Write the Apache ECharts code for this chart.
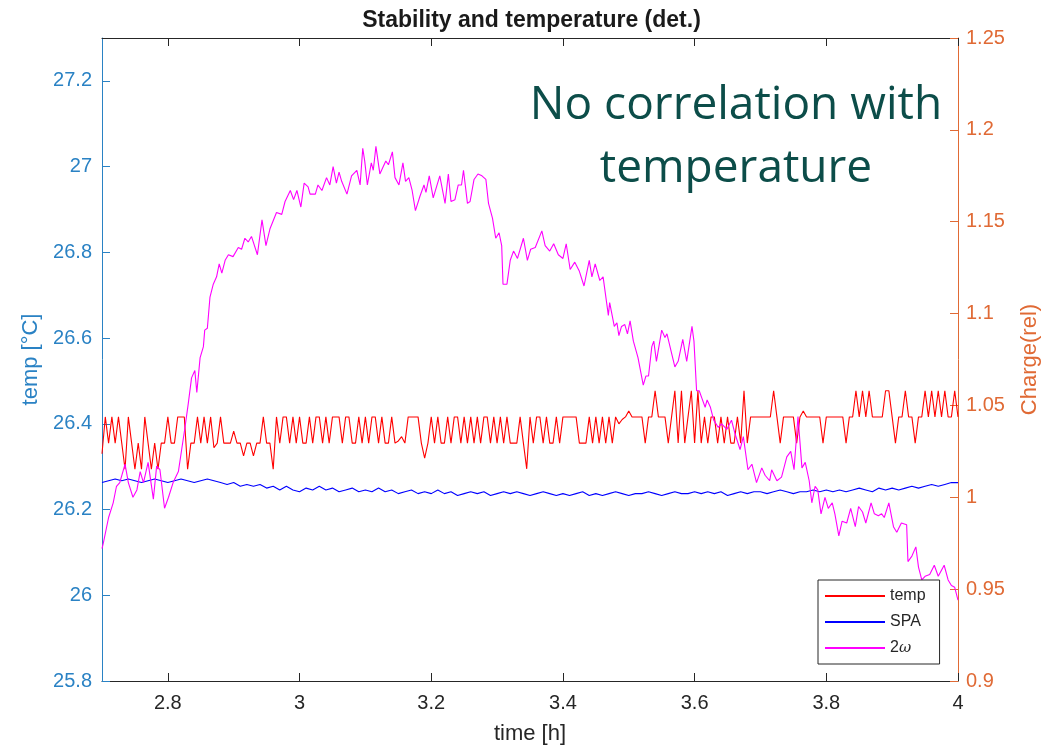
<!DOCTYPE html>
<html>
<head>
<meta charset="utf-8">
<script src="https://cdn.jsdelivr.net/npm/echarts@6/dist/echarts.min.js"></script>
<style>
html,body{margin:0;padding:0;background:#fff;}
#c{width:1063px;height:749px;}
</style>
</head>
<body>
<div id="c"></div>
<script>
// ---- data ----
const xTicks = [2.8, 3, 3.2, 3.4, 3.6, 3.8, 4];
const tempTicks = [25.8, 26, 26.2, 26.4, 26.6, 26.8, 27, 27.2];
const chargeTicks = [0.9, 0.95, 1, 1.05, 1.1, 1.15, 1.2, 1.25];

const tempTimes = [
2.700,2.705,2.710,2.715,2.720,2.725,2.730,2.735,2.740,2.745,
2.750,2.755,2.760,2.765,2.770,2.775,2.780,2.785,2.790,2.795,
2.800,2.805,2.810,2.815,2.820,2.825,2.830,2.835,2.840,2.845,
2.850,2.855,2.860,2.865,2.870,2.875,2.880,2.885,2.890,2.895,
2.900,2.905,2.910,2.915,2.920,2.925,2.930,2.935,2.940,2.945,
2.950,2.955,2.960,2.965,2.970,2.975,2.980,2.985,2.990,2.995,
3.000,3.005,3.010,3.015,3.020,3.025,3.030,3.035,3.040,3.045,
3.050,3.055,3.060,3.065,3.070,3.075,3.080,3.085,3.090,3.095,
3.100,3.105,3.110,3.115,3.120,3.125,3.130,3.135,3.140,3.145,
3.150,3.155,3.160,3.165,3.170,3.175,3.180,3.185,3.190,3.195,
3.200,3.205,3.210,3.215,3.220,3.225,3.230,3.235,3.240,3.245,
3.250,3.255,3.260,3.265,3.270,3.275,3.280,3.285,3.290,3.295,
3.300,3.305,3.310,3.315,3.320,3.325,3.330,3.335,3.340,3.345,
3.350,3.355,3.360,3.365,3.370,3.375,3.380,3.385,3.390,3.395,
3.400,3.405,3.410,3.415,3.420,3.425,3.430,3.435,3.440,3.445,
3.450,3.455,3.460,3.465,3.470,3.475,3.480,3.485,3.490,3.495,
3.500,3.505,3.510,3.515,3.520,3.525,3.530,3.535,3.540,3.545,
3.550,3.555,3.560,3.565,3.570,3.575,3.580,3.585,3.590,3.595,
3.600,3.605,3.610,3.615,3.620,3.625,3.630,3.635,3.640,3.645,
3.650,3.655,3.660,3.665,3.670,3.675,3.680,3.685,3.690,3.695,
3.700,3.705,3.710,3.715,3.720,3.725,3.730,3.735,3.740,3.745,
3.750,3.755,3.760,3.765,3.770,3.775,3.780,3.785,3.790,3.795,
3.800,3.805,3.810,3.815,3.820,3.825,3.830,3.835,3.840,3.845,
3.850,3.855,3.860,3.865,3.870,3.875,3.880,3.885,3.890,3.895,
3.900,3.905,3.910,3.915,3.920,3.925,3.930,3.935,3.940,3.945,
3.950,3.955,3.960,3.965,3.970,3.975,3.980,3.985,3.990,3.995,
4.000
];
const tempValues = [
26.33,26.416,26.355,26.416,26.355,26.416,26.355,26.294,26.416,26.355,
26.294,26.355,26.294,26.416,26.355,26.294,26.355,26.294,26.355,26.355,
26.416,26.355,26.355,26.416,26.416,26.416,26.294,26.355,26.355,26.416,
26.355,26.416,26.355,26.416,26.344,26.355,26.416,26.355,26.355,26.355,
26.383,26.355,26.355,26.325,26.355,26.355,26.325,26.355,26.355,26.416,
26.355,26.355,26.294,26.416,26.355,26.416,26.416,26.355,26.416,26.355,
26.416,26.355,26.355,26.416,26.355,26.416,26.416,26.355,26.416,26.355,
26.416,26.416,26.416,26.355,26.416,26.416,26.355,26.355,26.416,26.355,
26.416,26.355,26.416,26.416,26.355,26.416,26.355,26.355,26.416,26.355,
26.36,26.37,26.355,26.416,26.416,26.416,26.416,26.355,26.32,26.355,
26.416,26.355,26.416,26.355,26.355,26.416,26.355,26.416,26.416,26.355,
26.416,26.355,26.416,26.355,26.416,26.355,26.416,26.416,26.355,26.416,
26.355,26.416,26.355,26.416,26.355,26.355,26.355,26.416,26.355,26.295,
26.416,26.355,26.416,26.416,26.355,26.416,26.355,26.355,26.416,26.355,
26.416,26.416,26.416,26.416,26.416,26.355,26.355,26.355,26.416,26.355,
26.416,26.355,26.416,26.355,26.416,26.355,26.416,26.40,26.41,26.416,
26.43,26.416,26.416,26.416,26.416,26.355,26.416,26.416,26.477,26.416,
26.416,26.416,26.355,26.416,26.477,26.355,26.477,26.355,26.416,26.477,
26.355,26.477,26.355,26.416,26.355,26.416,26.416,26.355,26.416,26.355,
26.416,26.355,26.355,26.416,26.355,26.477,26.355,26.416,26.416,26.416,
26.416,26.416,26.416,26.416,26.477,26.416,26.355,26.416,26.416,26.416,
26.416,26.355,26.416,26.43,26.416,26.416,26.416,26.416,26.416,26.355,
26.416,26.416,26.416,26.416,26.416,26.416,26.355,26.416,26.416,26.477,
26.416,26.477,26.416,26.477,26.416,26.416,26.416,26.416,26.477,26.477,
26.416,26.355,26.416,26.416,26.477,26.416,26.416,26.355,26.416,26.416,
26.477,26.416,26.477,26.416,26.477,26.416,26.477,26.416,26.416,26.477,
26.416
];

const spaTimes = [
2.70,2.71,2.72,2.73,2.74,2.75,2.76,2.77,2.78,2.79,
2.80,2.81,2.82,2.83,2.84,2.85,2.86,2.87,2.88,2.89,
2.90,2.91,2.92,2.93,2.94,2.95,2.96,2.97,2.98,2.99,
3.00,3.01,3.02,3.03,3.04,3.05,3.06,3.07,3.08,3.09,
3.10,3.11,3.12,3.13,3.14,3.15,3.16,3.17,3.18,3.19,
3.20,3.21,3.22,3.23,3.24,3.25,3.26,3.27,3.28,3.29,
3.30,3.31,3.32,3.33,3.34,3.35,3.36,3.37,3.38,3.39,
3.40,3.41,3.42,3.43,3.44,3.45,3.46,3.47,3.48,3.49,
3.50,3.51,3.52,3.53,3.54,3.55,3.56,3.57,3.58,3.59,
3.60,3.61,3.62,3.63,3.64,3.65,3.66,3.67,3.68,3.69,
3.70,3.71,3.72,3.73,3.74,3.75,3.76,3.77,3.78,3.79,
3.80,3.81,3.82,3.83,3.84,3.85,3.86,3.87,3.88,3.89,
3.90,3.91,3.92,3.93,3.94,3.95,3.96,3.97,3.98,3.99,
4.00
];
const spaValues = [
1.008,1.009,1.010,1.009,1.010,1.009,1.008,1.009,1.010,1.009,
1.008,1.009,1.010,1.009,1.008,1.009,1.010,1.009,1.008,1.007,
1.008,1.006,1.007,1.006,1.007,1.005,1.006,1.004,1.006,1.004,
1.003,1.005,1.004,1.006,1.004,1.005,1.003,1.004,1.005,1.003,
1.004,1.003,1.005,1.003,1.004,1.002,1.003,1.004,1.002,1.003,
1.002,1.004,1.002,1.003,1.001,1.002,1.003,1.002,1.003,1.001,
1.002,1.003,1.002,1.003,1.002,1.001,1.002,1.003,1.002,1.001,
1.002,1.001,1.002,1.003,1.001,1.002,1.001,1.002,1.003,1.002,
1.001,1.002,1.002,1.003,1.002,1.001,1.002,1.003,1.002,1.002,
1.003,1.002,1.003,1.002,1.003,1.001,1.002,1.003,1.002,1.003,
1.003,1.002,1.003,1.004,1.003,1.002,1.003,1.003,1.004,1.003,
1.004,1.003,1.004,1.003,1.004,1.005,1.004,1.003,1.005,1.004,
1.005,1.004,1.005,1.006,1.005,1.006,1.007,1.006,1.007,1.008,
1.008
];

const omegaTimes = [
2.700,2.702,2.710,2.717,2.722,2.727,2.735,2.740,2.747,2.753,2.758,2.763,2.770,2.778,2.783,2.788,2.795,
2.801,2.808,2.816,2.821,2.826,2.831,2.836,2.841,2.844,2.849,2.854,2.856,2.860,2.864,2.869,2.874,2.878,
2.882,2.887,2.892,2.899,2.907,2.912,2.917,2.922,2.927,2.936,2.943,2.949,2.955,2.965,2.973,2.978,2.986,
2.991,2.996,3.002,3.007,3.013,3.016,3.024,3.028,3.034,3.041,3.046,3.051,3.056,3.060,3.064,3.072,3.079,
3.087,3.092,3.096,3.099,3.103,3.109,3.112,3.116,3.122,3.131,3.135,3.141,3.145,3.151,3.157,3.161,3.166,
3.171,3.176,3.183,3.189,3.192,3.197,3.203,3.213,3.221,3.226,3.230,3.236,3.241,3.246,3.249,3.255,3.259,
3.265,3.271,3.277,3.283,3.287,3.293,3.298,3.303,3.307,3.309,3.315,3.320,3.325,3.331,3.340,3.346,3.351,
3.358,3.368,3.373,3.380,3.386,3.393,3.400,3.405,3.411,3.418,3.425,3.428,3.432,3.440,3.444,3.449,3.456,
3.461,3.469,3.471,3.478,3.482,3.485,3.489,3.494,3.498,3.502,3.507,3.514,3.522,3.526,3.530,3.535,3.538,
3.542,3.550,3.555,3.558,3.570,3.575,3.582,3.588,3.596,3.599,3.603,3.607,3.611,3.616,3.619,3.624,3.629,
3.636,3.641,3.649,3.656,3.661,3.669,3.674,3.681,3.687,3.694,3.702,3.707,3.714,3.717,3.725,3.732,3.740,
3.746,3.751,3.757,3.763,3.768,3.774,3.778,3.783,3.787,3.792,3.798,3.803,3.809,3.813,3.819,3.824,3.831,
3.837,3.844,3.849,3.855,3.860,3.868,3.873,3.879,3.884,3.888,3.895,3.902,3.907,3.914,3.922,3.924,3.930,
3.936,3.940,3.945,3.950,3.957,3.964,3.970,3.979,3.985,3.990,3.995,4.000
];
const omegaValues = [
0.972,0.975,0.989,0.997,1.006,1.008,1.018,1.008,1.000,1.004,1.014,1.008,1.019,0.999,1.017,1.015,0.994,
1.000,1.008,1.014,1.026,1.038,1.051,1.065,1.069,1.057,1.076,1.082,1.091,1.092,1.109,1.116,1.120,1.127,
1.122,1.129,1.132,1.131,1.136,1.135,1.141,1.139,1.142,1.132,1.151,1.137,1.146,1.155,1.154,1.161,1.167,
1.162,1.167,1.158,1.171,1.169,1.165,1.165,1.170,1.167,1.174,1.170,1.180,1.171,1.177,1.172,1.165,1.175,
1.178,1.170,1.190,1.183,1.170,1.182,1.178,1.191,1.176,1.183,1.181,1.188,1.174,1.170,1.182,1.172,1.174,
1.167,1.156,1.164,1.170,1.166,1.175,1.163,1.175,1.160,1.176,1.161,1.162,1.170,1.170,1.178,1.160,1.161,
1.173,1.176,1.175,1.173,1.160,1.152,1.141,1.144,1.137,1.116,1.116,1.129,1.134,1.130,1.141,1.129,1.135,
1.136,1.145,1.137,1.134,1.138,1.132,1.130,1.138,1.124,1.128,1.123,1.124,1.115,1.129,1.120,1.127,1.118,
1.120,1.099,1.106,1.093,1.095,1.088,1.093,1.094,1.089,1.096,1.085,1.076,1.061,1.066,1.066,1.082,1.085,
1.074,1.091,1.087,1.089,1.071,1.074,1.086,1.074,1.093,1.085,1.058,1.058,1.054,1.049,1.053,1.049,1.042,
1.038,1.040,1.037,1.042,1.035,1.026,1.033,1.015,1.018,1.008,1.016,1.012,1.009,1.015,1.009,1.011,1.022,
1.025,1.015,1.044,1.016,1.019,1.009,0.997,1.006,1.004,0.991,1.000,0.994,0.997,0.991,0.979,0.987,0.986,
0.994,0.984,0.995,0.992,0.986,0.997,0.991,0.990,0.991,0.989,0.997,0.984,0.981,0.986,0.985,0.965,0.968,
0.973,0.962,0.955,0.957,0.958,0.963,0.957,0.963,0.955,0.952,0.951,0.944
];

// ---- build series data ----
const zip = (a, b) => a.map((t, i) => [t, b[i]]);

const FONT = 'Liberation Sans, Arial, Helvetica, sans-serif';
const LEFT_C = '#2a82c4';
const RIGHT_C = '#e06a35';
const AX_C = '#262626';

const chart = echarts.init(document.getElementById('c'), null, {renderer: 'canvas'});
chart.setOption({
  animation: false,
  backgroundColor: '#ffffff',
  title: {
    text: 'Stability and temperature (det.)',
    left: 'center',
    top: 4,
    textStyle: {fontFamily: FONT, fontSize: 23, fontWeight: 'bold', color: '#1a1a1a'}
  },
  grid: {left: 102, right: 105, top: 38, bottom: 68, containLabel: false, outerBoundsMode: 'none'},
  xAxis: [
    {
      type: 'value', min: 2.7, max: 4, position: 'bottom',
      axisLine: {show: true, onZero: false, lineStyle: {color: AX_C, width: 1}},
      axisTick: {show: true, inside: true, length: 8, customValues: xTicks, lineStyle: {color: AX_C}},
      axisLabel: {customValues: xTicks, color: AX_C, fontSize: 20, fontFamily: FONT, margin: 12},
      splitLine: {show: false},
      name: 'time [h]', nameLocation: 'middle', nameGap: 42,
      nameTextStyle: {fontFamily: FONT, fontSize: 22, color: AX_C}
    },
    {
      type: 'value', min: 2.7, max: 4, position: 'top',
      axisLine: {show: true, onZero: false, lineStyle: {color: AX_C, width: 1}},
      axisTick: {show: true, inside: true, length: 8, customValues: xTicks, lineStyle: {color: AX_C}},
      axisLabel: {show: false},
      splitLine: {show: false}
    }
  ],
  yAxis: [
    {
      type: 'value', min: 25.8, max: 27.3, position: 'left',
      axisLine: {show: true, onZero: false, lineStyle: {color: LEFT_C, width: 1}},
      axisTick: {show: true, inside: true, length: 8, customValues: tempTicks, lineStyle: {color: LEFT_C}},
      axisLabel: {customValues: tempTicks, color: LEFT_C, fontSize: 20, fontFamily: FONT, margin: 10},
      splitLine: {show: false},
      name: 'temp [°C]', nameLocation: 'middle', nameGap: 52, nameRotate: 90,
      nameTextStyle: {fontFamily: FONT, fontSize: 22, color: LEFT_C}
    },
    {
      type: 'value', min: 0.9, max: 1.25, position: 'right',
      axisLine: {show: true, onZero: false, lineStyle: {color: RIGHT_C, width: 1}},
      axisTick: {show: true, inside: true, length: 8, customValues: chargeTicks, lineStyle: {color: RIGHT_C}},
      axisLabel: {customValues: chargeTicks, color: RIGHT_C, fontSize: 20, fontFamily: FONT, margin: 8},
      splitLine: {show: false},
      name: 'Charge(rel)', nameLocation: 'middle', nameGap: 61, nameRotate: 90,
      nameTextStyle: {fontFamily: FONT, fontSize: 22, color: RIGHT_C}
    }
  ],
  legend: {
    orient: 'vertical', left: 818, top: 580,
    padding: [8, 14, 8, 7], itemGap: 10,
    itemWidth: 60, itemHeight: 2, icon: 'rect',
    backgroundColor: '#ffffff', borderColor: AX_C, borderWidth: 1, borderRadius: 0,
    data: ['temp', 'SPA', '2ω'],
    formatter: n => (n === '2ω' ? '2{i|ω}' : n),
    textStyle: {
      fontFamily: FONT, fontSize: 16, color: AX_C, lineHeight: 16,
      rich: {i: {fontStyle: 'italic', fontFamily: 'DejaVu Serif', fontSize: 15, color: AX_C}}
    }
  },
  graphic: [
    {type: 'text', x: 736, y: 106, z: 10,
     style: {text: 'No correlation with', align: 'center', verticalAlign: 'middle',
             fontSize: 46, fontFamily: 'Open Sans', fill: '#0c4d49'}},
    {type: 'text', x: 736, y: 169, z: 10,
     style: {text: 'temperature', align: 'center', verticalAlign: 'middle',
             fontSize: 46, fontFamily: 'Open Sans', fill: '#0c4d49'}}
  ],
  series: [
    {name: 'temp', type: 'line', xAxisIndex: 0, yAxisIndex: 0, data: zip(tempTimes, tempValues),
     showSymbol: false, symbol: 'none', lineStyle: {color: '#ff0000', width: 1.1}, itemStyle: {color: '#ff0000'}},
    {name: 'SPA', type: 'line', xAxisIndex: 0, yAxisIndex: 1, data: zip(spaTimes, spaValues),
     showSymbol: false, symbol: 'none', lineStyle: {color: '#0000ff', width: 1.1}, itemStyle: {color: '#0000ff'}},
    {name: '2ω', type: 'line', xAxisIndex: 0, yAxisIndex: 1, data: zip(omegaTimes, omegaValues),
     showSymbol: false, symbol: 'none', lineStyle: {color: '#ff00ff', width: 1.1}, itemStyle: {color: '#ff00ff'}}
  ]
});
</script>
</body>
</html>
